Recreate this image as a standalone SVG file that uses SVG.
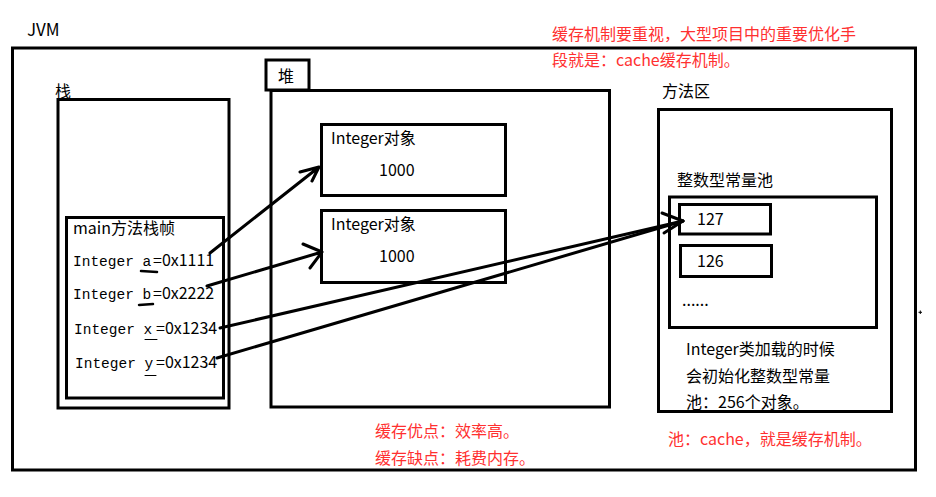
<svg xmlns="http://www.w3.org/2000/svg" width="936" height="497" viewBox="0 0 936 497">
<style>
.box{fill:none;stroke:#000;stroke-width:3}
.t{font-family:"Noto Sans CJK SC","Liberation Sans",sans-serif;font-size:16px;fill:#000}
.r{font-family:"Noto Sans CJK SC","Liberation Sans",sans-serif;font-size:16px;fill:#ff3030}
.m{font-family:"Liberation Mono",monospace;font-size:14.5px}
.ln{stroke:#000;stroke-width:3;fill:none;stroke-linecap:round;stroke-linejoin:round}
.ul{stroke:#000;fill:none;stroke-linecap:round}
</style>
<rect width="936" height="497" fill="#fff"/>
<g id="jvm">
<rect class="box" x="12.5" y="48" width="903" height="422"/>
<text class="t" x="27" y="36" style="font-size:17px">JVM</text>
</g>
<g id="stack">
<rect class="box" x="58" y="99.5" width="171" height="308.5"/>
<text class="t" x="55" y="97">栈</text>
</g>
<g id="main-frame">
<rect class="box" x="66.5" y="217.5" width="157" height="180.5"/>
<text class="t" x="73" y="234">main方法栈帧</text>
<text class="t" y="266"><tspan class="m" x="73">Integer a</tspan><tspan x="153">=0x1111</tspan></text>
<text class="t" y="299"><tspan class="m" x="73">Integer b</tspan><tspan x="153">=0x2222</tspan></text>
<text class="t" y="334"><tspan class="m" x="74">Integer x</tspan><tspan x="156">=0x1234</tspan></text>
<text class="t" y="368"><tspan class="m" x="75">Integer y</tspan><tspan x="156">=0x1234</tspan></text>
<path class="ul" stroke-width="2.5" d="M141 271 L157 272"/>
<path class="ul" stroke-width="2.5" d="M139 305 L153 304"/>
<path class="ul" stroke-width="1" d="M145 339.5 L157 339.5"/>
<path class="ul" stroke-width="1" d="M145 375.5 L156 375.5"/>
</g>
<g id="heap">
<rect class="box" x="266" y="60" width="43" height="30"/>
<text class="t" x="278" y="82">堆</text>
<rect class="box" x="271" y="90.5" width="338.5" height="316.5"/>
</g>
<g id="obj1">
<rect class="box" x="321.5" y="124.5" width="184" height="71"/>
<text class="t" x="331" y="144">Integer对象</text>
<text class="t" x="379" y="176">1000</text>
</g>
<g id="obj2">
<rect class="box" x="321.5" y="210.5" width="184" height="72"/>
<text class="t" x="331" y="230">Integer对象</text>
<text class="t" x="379" y="262">1000</text>
</g>
<g id="method-area">
<rect class="box" x="658.5" y="109.5" width="233" height="302"/>
<text class="t" x="662" y="97">方法区</text>
<text class="t" x="677" y="186">整数型常量池</text>
<text class="t" x="686" y="355">Integer类加载的时候</text>
<text class="t" x="686" y="382">会初始化整数型常量</text>
<text class="t" x="686" y="408">池：256个对象。</text>
</g>
<g id="pool">
<rect class="box" x="669.5" y="197" width="207" height="130.5"/>
<text class="t" x="682" y="306">......</text>
</g>
<g id="c127">
<rect class="box" x="679.5" y="204.5" width="91" height="29.5"/>
<text class="t" x="697" y="225">127</text>
</g>
<g id="c126">
<rect class="box" x="680.5" y="245.5" width="91" height="31"/>
<text class="t" x="697" y="267">126</text>
</g>
<g id="notes">
<text class="r" x="552" y="40">缓存机制要重视，大型项目中的重要优化手</text>
<text class="r" x="552" y="66">段就是：cache缓存机制。</text>
<text class="r" x="375" y="437">缓存优点：效率高。</text>
<text class="r" x="375" y="464">缓存缺点：耗费内存。</text>
<text class="r" x="668" y="445">池：cache，就是缓存机制。</text>
<path d="M920.3 310.5 V314 M918.5 312.3 H922" stroke="#000" stroke-width="1"/>
</g>
<g id="connectors">
<path class="ln" d="M210 253 L319 167 M300 172 L319 167 L312 181"/>
<path class="ln" d="M207 286 L322 252 M303 244 L322 252 L310 268"/>
<path class="ln" d="M220 328 L683 221"/>
<path class="ln" d="M217 358 L683 221"/>
<path class="ln" d="M662 213 L683 221 L664 233"/>
</g>
</svg>
